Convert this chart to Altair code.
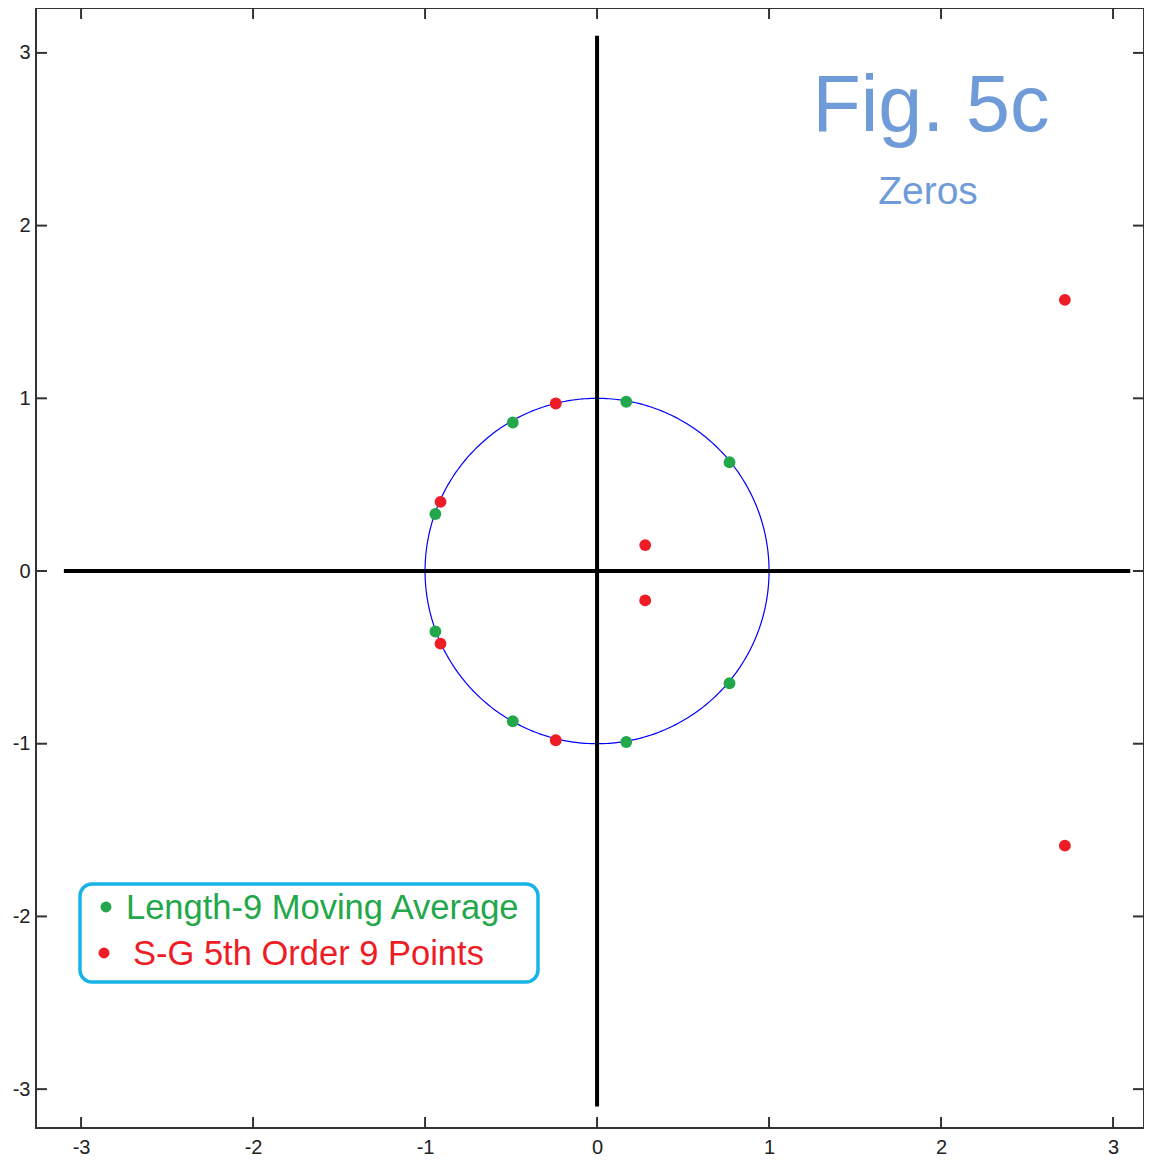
import altair as alt
import pandas as pd

# Zeros
ma_re = [0.77, 0.17, -0.49, -0.94, -0.94, -0.49, 0.17, 0.77]
ma_im = [0.63, 0.98, 0.86, 0.33, -0.35, -0.87, -0.99, -0.65]
sg_re = [-0.24, -0.91, -0.91, -0.24, 0.28, 0.28, 2.72, 2.72]
sg_im = [0.97, 0.40, -0.42, -0.98, 0.15, -0.17, 1.57, -1.59]

tick_values = [-3, -2, -1, 0, 1, 2, 3]
axis_extent = 3.1
x_domain = [-3.262, 3.18]
y_domain = [-3.225, 3.26]

W, H = 1108, 1120
GREEN = "#22a84a"
RED = "#ee1c25"
FONT = "Liberation Sans"

ma = pd.DataFrame({"re": ma_re, "im": ma_im})
sg = pd.DataFrame({"re": sg_re, "im": sg_im})
ticks = pd.DataFrame({"v": tick_values})
axes_df = pd.DataFrame({"a": [-axis_extent], "b": [axis_extent], "z": [0.0]})

xs = alt.Scale(domain=x_domain, nice=False, zero=False)
ys = alt.Scale(domain=y_domain, nice=False, zero=False)

x_axis = alt.Axis(values=tick_values, tickSize=0, domain=False, grid=False,
                  labelFontSize=20, labelFont=FONT, labelColor="#222222",
                  labelPadding=9, title=None, labelExpr="'' + datum.value")
y_axis = alt.Axis(values=tick_values, tickSize=0, domain=False, grid=False,
                  labelFontSize=20, labelFont=FONT, labelColor="#222222",
                  labelPadding=6, title=None, labelExpr="'' + datum.value")

# unit circle (reference curve)
circle = alt.Chart(alt.sequence(0, 361, 1, as_="t")).transform_calculate(
    cx="cos(datum.t*PI/180)", cy="sin(datum.t*PI/180)"
).mark_line(color="#0000ff", strokeWidth=1.2).encode(
    x=alt.X("cx:Q", scale=xs, axis=x_axis),
    y=alt.Y("cy:Q", scale=ys, axis=y_axis),
    order="t:Q",
)

hline = alt.Chart(axes_df).mark_rule(color="black", strokeWidth=4).encode(
    x=alt.X("a:Q", scale=xs), x2="b:Q", y=alt.Y("z:Q", scale=ys))
vline = alt.Chart(axes_df).mark_rule(color="black", strokeWidth=4).encode(
    y=alt.Y("a:Q", scale=ys), y2="b:Q", x=alt.X("z:Q", scale=xs))

tick_col = "#333333"
top_t = alt.Chart(ticks).mark_rule(color=tick_col, strokeWidth=2).encode(
    x=alt.X("v:Q", scale=xs), y=alt.value(0), y2=alt.value(11))
bot_t = alt.Chart(ticks).mark_rule(color=tick_col, strokeWidth=2).encode(
    x=alt.X("v:Q", scale=xs), y=alt.value(H - 11), y2=alt.value(H))
left_t = alt.Chart(ticks).mark_rule(color=tick_col, strokeWidth=2).encode(
    y=alt.Y("v:Q", scale=ys), x=alt.value(0), x2=alt.value(11))
right_t = alt.Chart(ticks).mark_rule(color=tick_col, strokeWidth=2).encode(
    y=alt.Y("v:Q", scale=ys), x=alt.value(W - 11), x2=alt.value(W))

pts_ma = alt.Chart(ma).mark_circle(color=GREEN, size=140, opacity=1).encode(
    x=alt.X("re:Q", scale=xs), y=alt.Y("im:Q", scale=ys))
pts_sg = alt.Chart(sg).mark_circle(color=RED, size=140, opacity=1).encode(
    x=alt.X("re:Q", scale=xs), y=alt.Y("im:Q", scale=ys))

# title annotation
one = pd.DataFrame({"k": [0]})
fig_t = alt.Chart(one).mark_text(text="Fig. 5c", font=FONT, fontSize=79, color="#6f9bd8",
                                 align="center", baseline="alphabetic").encode(
    x=alt.value(895), y=alt.value(123))
zeros_t = alt.Chart(one).mark_text(text="Zeros", font=FONT, fontSize=39, color="#6f9bd8",
                                   align="center", baseline="alphabetic").encode(
    x=alt.value(892), y=alt.value(196))

# legend box
leg_box = alt.Chart(one).mark_rect(fill="white", stroke="#18b4e8", strokeWidth=3.5,
                                   cornerRadius=12).encode(
    x=alt.value(44), x2=alt.value(502), y=alt.value(876), y2=alt.value(974))
leg_d1 = alt.Chart(one).mark_circle(color=GREEN, size=120, opacity=1).encode(
    x=alt.value(70), y=alt.value(899))
leg_d2 = alt.Chart(one).mark_circle(color=RED, size=120, opacity=1).encode(
    x=alt.value(68), y=alt.value(945))
leg_t1 = alt.Chart(one).mark_text(text="Length-9 Moving Average", font=FONT, fontSize=34.5,
                                  color=GREEN, align="left", baseline="alphabetic").encode(
    x=alt.value(90), y=alt.value(911))
leg_t2 = alt.Chart(one).mark_text(text="S-G 5th Order 9 Points", font=FONT, fontSize=34.5,
                                  color=RED, align="left", baseline="alphabetic").encode(
    x=alt.value(97), y=alt.value(957))

chart = alt.layer(
    circle, hline, vline, top_t, bot_t, left_t, right_t,
    pts_ma, pts_sg, fig_t, zeros_t,
    leg_box, leg_d1, leg_d2, leg_t1, leg_t2,
).properties(
    width=W, height=H,
    autosize=alt.AutoSizeParams(type="none"),
    padding={"left": 28, "top": 0, "right": 0, "bottom": 28},
    background="white",
).configure_view(stroke="#333333", strokeWidth=2)

chart.save("out.html", embed_options={"renderer": "svg", "actions": False})
